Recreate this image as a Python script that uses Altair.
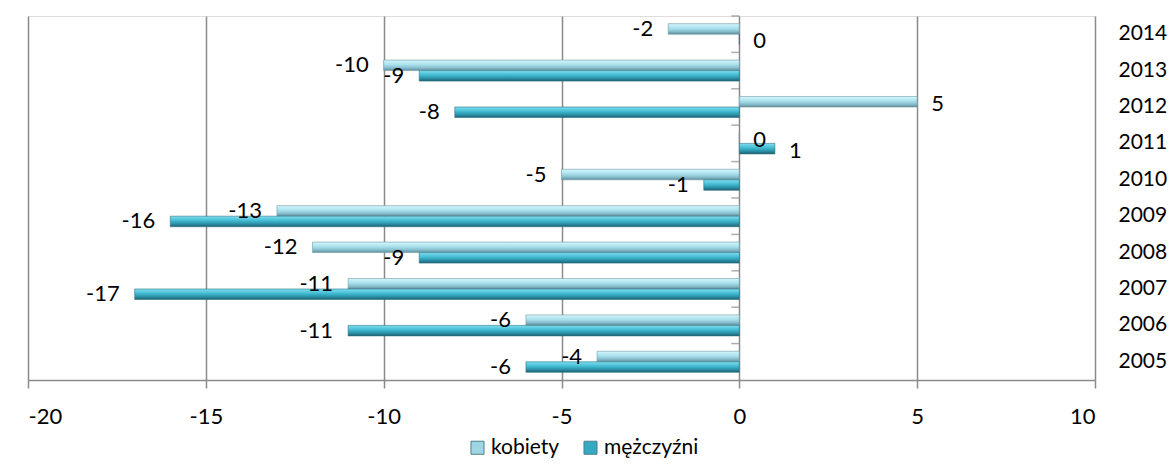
import altair as alt
import pandas as pd

# ---- data ----
years = ["2014", "2013", "2012", "2011", "2010", "2009", "2008", "2007", "2006", "2005"]
kobiety = [-2, -10, 5, 0, -5, -13, -12, -11, -6, -4]
mezczyzni = [0, -9, -8, 1, -1, -16, -9, -17, -11, -6]
series_names = ["kobiety", "mężczyźni"]
x_ticks = [-20, -15, -10, -5, 0, 5, 10]

rows = []
for yr, k, m in zip(years, kobiety, mezczyzni):
    rows.append({"year": yr, "series": "kobiety", "value": k, "label": str(k)})
    rows.append({"year": yr, "series": "mężczyźni", "value": m, "label": str(m)})
df = pd.DataFrame(rows)

W, H = 1067, 364
FONT = "Lato"
GRID = "#8a8a8a"
FS = 22

x_enc = alt.X(
    "value:Q",
    scale=alt.Scale(domain=[-20, 10], nice=False, zero=True),
    axis=alt.Axis(
        values=x_ticks, grid=True, gridColor=GRID, gridWidth=1.5,
        domainColor=GRID, domainWidth=1.5, tickColor=GRID, tickWidth=1.5,
        tickSize=8, labelFontSize=FS, labelPadding=18, labelColor="black",
        labelFont=FONT, title=None, labelExpr="toString(datum.value)",
    ),
)
y_enc = alt.Y(
    "year:N", sort=years,
    scale=alt.Scale(paddingInner=0, paddingOuter=0),
    axis=alt.Axis(
        orient="right", domain=False, ticks=False, grid=False,
        labelFontSize=21, labelPadding=23, labelColor="black",
        labelFont=FONT, title=None,
    ),
)
yoff = alt.YOffset(
    "series:N", sort=series_names,
    scale=alt.Scale(domain=series_names, paddingInner=0, paddingOuter=0.73),
)

grad_k = alt.Gradient(
    gradient="linear", x1=0, x2=0, y1=0, y2=1,
    stops=[
        alt.GradientStop(color="#d4f6fc", offset=0),
        alt.GradientStop(color="#a7e0ec", offset=0.45),
        alt.GradientStop(color="#86bccb", offset=0.75),
        alt.GradientStop(color="#5e8b98", offset=1),
    ],
)
grad_m = alt.Gradient(
    gradient="linear", x1=0, x2=0, y1=0, y2=1,
    stops=[
        alt.GradientStop(color="#7fdff0", offset=0),
        alt.GradientStop(color="#3fb8d0", offset=0.45),
        alt.GradientStop(color="#2a8ea3", offset=0.75),
        alt.GradientStop(color="#1d5f6e", offset=1),
    ],
)

base = alt.Chart(df)

bars_k = base.transform_filter(alt.datum.series == "kobiety").mark_bar(
    color=grad_k, stroke="#6f9aa6", strokeWidth=0.6
).encode(x=x_enc, y=y_enc, yOffset=yoff)

bars_m = base.transform_filter(alt.datum.series == "mężczyźni").mark_bar(
    color=grad_m, stroke="#2b7486", strokeWidth=0.6
).encode(x=x_enc, y=y_enc, yOffset=yoff)

lab_neg = base.transform_filter(alt.datum.value < 0).mark_text(
    align="right", baseline="middle", dx=-15, fontSize=FS, font=FONT, color="black"
).encode(x=x_enc, y=y_enc, yOffset=yoff, text="label:N")

lab_pos = base.transform_filter(alt.datum.value >= 0).mark_text(
    align="left", baseline="middle", dx=14, dy=2, fontSize=FS, font=FONT, color="black"
).encode(x=x_enc, y=y_enc, yOffset=yoff, text="label:N")

zero_ticks = base.transform_filter(alt.datum.series == "kobiety").mark_tick(
    orient="horizontal", size=8, thickness=1.5, color=GRID, xOffset=-4
).encode(
    x=alt.datum(0),
    y=alt.Y("year:N", sort=years, bandPosition=0),
)

legend_layer = base.mark_square(opacity=0, size=10).encode(
    x=x_enc, y=y_enc,
    color=alt.Color(
        "series:N", sort=series_names,
        scale=alt.Scale(domain=series_names, range=["#9fd6e3", "#34a9c1"]),
        legend=alt.Legend(
            orient="none", legendX=439, legendY=421, direction="horizontal",
            title=None, symbolType="square", symbolSize=170, symbolOpacity=1,
            symbolStrokeColor="#4f7f8c", symbolStrokeWidth=1,
            labelFontSize=21, labelFont=FONT, labelColor="black",
            labelOffset=3, columnPadding=20,
        ),
    ),
)

chart = alt.layer(
    bars_k, bars_m, zero_ticks, lab_neg, lab_pos, legend_layer
).properties(
    width=W, height=H,
    autosize=alt.AutoSizeParams(type="none"),
    padding={"left": 20, "top": 8, "right": 73, "bottom": 78},
).configure_view(stroke=None).configure(background="white")

chart.save("out.html", embed_options={"renderer": "svg", "actions": False})
